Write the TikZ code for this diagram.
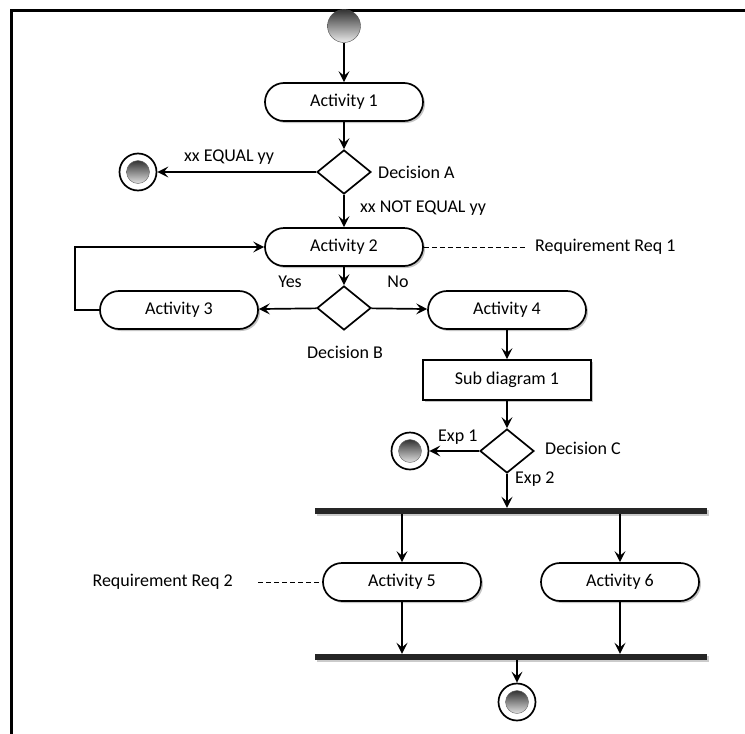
\documentclass[tikz,border=0pt]{standalone}
\usepackage{fontspec}
\setmainfont{Carlito}
\usetikzlibrary{shapes.geometric,arrows.meta,shadows}
\tikzset{
 act/.style={draw, line width=1.7pt, fill=white, rounded corners=19pt, minimum width=158pt, minimum height=38pt, inner sep=0pt, drop shadow={shadow xshift=2pt, shadow yshift=-2pt, fill=black!45, opacity=0.5}},
 subbox/.style={draw, line width=1.7pt, fill=white, minimum width=168pt, minimum height=40pt, inner sep=0pt, drop shadow={shadow xshift=2pt, shadow yshift=-2pt, fill=black!45, opacity=0.5}},
 dec/.style={draw, diamond, line width=1.7pt, fill=white, minimum width=54pt, minimum height=44pt, inner sep=0pt},
 flow/.style={line width=1.7pt, -{Stealth[length=11pt,width=11pt,inset=4.5pt]}},
 bar/.style={fill=black!85, minimum width=392pt, minimum height=6pt, inner sep=0pt, drop shadow={shadow xshift=2pt, shadow yshift=-2pt, fill=black!40, opacity=0.5}},
 startnode/.style={circle, draw=black!70, top color=black!80, bottom color=black!8, minimum size=33pt, inner sep=0pt},
 endring/.style={circle, draw, line width=1.7pt, fill=white, minimum size=37pt, inner sep=0pt},
 endcore/.style={circle, draw=black!60, top color=black!80, bottom color=black!12, minimum size=23pt, inner sep=0pt},
 lbl/.style={inner sep=1pt},
 note/.style={line width=0.8pt, dash pattern=on 5pt off 3pt},
}
\begin{document}
\begin{tikzpicture}[x=1pt,y=-1pt,font=\fontsize{18}{21}\selectfont]
\useasboundingbox (0,0) rectangle (745,734);
\fill[white] (0,0) rectangle (745,734);
% frame
\draw[line width=3pt] (11,734) -- (11,10) -- (745,10);

% nodes
\node[startnode] (start) at (344,26) {};
\node[act] (a1) at (344,102) {Activity 1};
\node[dec] (dA) at (344,172) {};
\node[endring] (e1) at (138,172) {};
\node[endcore] at (e1) {};
\node[act] (a2) at (344,247) {Activity 2};
\node[dec] (dB) at (344,308) {};
\node[act] (a3) at (179,310) {Activity 3};
\node[act] (a4) at (507,310) {Activity 4};
\node[subbox] (sub) at (507,380) {Sub diagram 1};
\node[dec] (dC) at (507,451) {};
\node[endring] (e2) at (410,451) {};
\node[endcore] at (e2) {};
\node[bar] (fork) at (511,511) {};
\node[act] (a5) at (402,582) {Activity 5};
\node[act] (a6) at (620,582) {Activity 6};
\node[bar] (join) at (511,657) {};
\node[endring] (e3) at (517,702) {};
\node[endcore] at (e3) {};

% labels
\node[lbl, anchor=west] (lEq) at (183,157) {xx EQUAL yy};
\node[lbl, anchor=west] (lDA) at (377,172) {Decision A};
\node[lbl, anchor=west] (lNeq) at (359,208) {xx NOT EQUAL yy};
\node[lbl, anchor=west] (r1) at (534,247) {Requirement Req 1};
\node[lbl] (lYes) at (290,282) {Yes};
\node[lbl] (lNo) at (398,282) {No};
\node[lbl] (lDB) at (345,352) {Decision B};
\node[lbl, anchor=west] (lE1) at (437,437) {Exp 1};
\node[lbl, anchor=west] (lDC) at (544,448) {Decision C};
\node[lbl, anchor=west] (lE2) at (514,479) {Exp 2};
\node[lbl, anchor=east] (r2) at (234,582) {Requirement Req 2};

% connectors
\draw[flow] (start) -- (a1);
\draw[flow] (a1) -- (dA);
\draw[flow] (dA) -- (e1);
\draw[flow] (dA) -- (a2);
\draw[note] (a2.east) -- ([xshift=-8pt]r1.west);
\draw[flow] (a2) -- (dB);
\draw[flow] (dB) -- (a3);
\draw[flow] (dB) -- (a4);
\draw[flow] (a3.west) -- ++(-24,0) |- (a2.west);
\draw[flow] (a4) -- (sub);
\draw[flow] (sub) -- (dC);
\draw[flow] (dC) -- (e2);
\draw[flow] (dC.south) -- (dC.south |- fork.north);
\draw[flow] (a5.north |- fork.south) -- (a5.north);
\draw[flow] (a6.north |- fork.south) -- (a6.north);
\draw[note] ([xshift=24pt]r2.east) -- (a5.west);
\draw[flow] (a5.south) -- (a5.south |- join.north);
\draw[flow] (a6.south) -- (a6.south |- join.north);
\draw[flow] (e3.north |- join.south) -- (e3.north);
\end{tikzpicture}
\end{document}
